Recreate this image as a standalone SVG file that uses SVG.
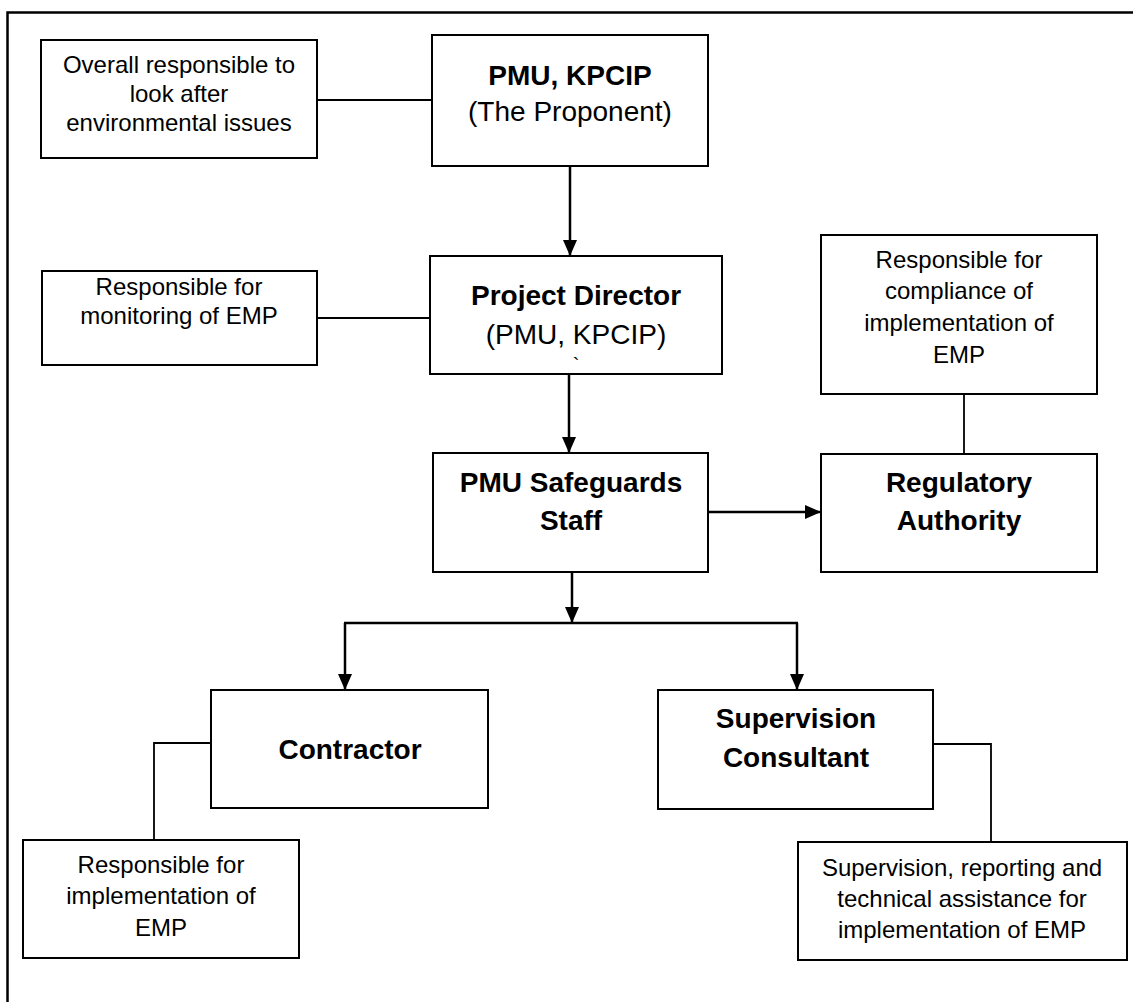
<svg xmlns="http://www.w3.org/2000/svg" width="1133" height="1002" viewBox="0 0 1133 1002">
<defs>
<marker id="ah" markerUnits="userSpaceOnUse" markerWidth="16" markerHeight="14" viewBox="0 0 16 14" refX="16" refY="7" orient="auto">
<path d="M0,0 L16,7 L0,14 Z" fill="#000"/>
</marker>
<style>
.box{fill:#fff;stroke:#000;stroke-width:2}
.frame{fill:none;stroke:#000;stroke-width:2.5}
.thin{fill:none;stroke:#000;stroke-width:1.8}
.arr{fill:none;stroke:#000;stroke-width:2.5}
.s{font-family:"Liberation Sans",Arial,sans-serif;font-size:24px;text-anchor:middle;fill:#000}
.b{font-family:"Liberation Sans",Arial,sans-serif;font-size:28px;font-weight:bold;text-anchor:middle;fill:#000}
.r{font-family:"Liberation Sans",Arial,sans-serif;font-size:28px;text-anchor:middle;fill:#000}
</style>
</defs>
<rect width="1133" height="1002" fill="#fff"/>
<path class="frame" d="M7.5,1002 V12.5 H1133"/>

<g id="connectors">
<line class="thin" x1="317" y1="100" x2="432" y2="100"/>
<line class="thin" x1="317" y1="318" x2="430" y2="318"/>
<line class="thin" x1="964" y1="394" x2="964" y2="454"/>
<polyline class="thin" points="211,743 154,743 154,840"/>
<polyline class="thin" points="933,744 991,744 991,842"/>
<line class="arr" x1="570" y1="162" x2="570" y2="256" marker-end="url(#ah)"/>
<line class="arr" x1="569" y1="374" x2="569" y2="453" marker-end="url(#ah)"/>
<line class="arr" x1="708" y1="512" x2="821" y2="512" marker-end="url(#ah)"/>
<line class="arr" x1="572" y1="572" x2="572" y2="623" marker-end="url(#ah)"/>
<line class="arr" x1="344" y1="623" x2="798" y2="623"/>
<line class="arr" x1="345" y1="623" x2="345" y2="690" marker-end="url(#ah)"/>
<line class="arr" x1="797" y1="623" x2="797" y2="690" marker-end="url(#ah)"/>
</g>

<g id="note-overall">
<rect class="box" x="41" y="40" width="276" height="118"/>
<text class="s" x="179" y="73">Overall responsible to</text>
<text class="s" x="179" y="102">look after</text>
<text class="s" x="179" y="131">environmental issues</text>
</g>

<g id="pmu-kpcip">
<rect class="box" x="432" y="35" width="276" height="131"/>
<text class="b" x="570" y="85">PMU, KPCIP</text>
<text class="r" x="570" y="121">(The Proponent)</text>
</g>

<g id="note-monitoring">
<rect class="box" x="42" y="271" width="275" height="94"/>
<text class="s" x="179" y="295">Responsible for</text>
<text class="s" x="179" y="324">monitoring of EMP</text>
</g>

<g id="project-director">
<rect class="box" x="430" y="256" width="292" height="118"/>
<text class="b" x="576" y="305">Project Director</text>
<text class="r" x="576" y="344">(PMU, KPCIP)</text>
<text class="r" x="576" y="372" style="font-size:20px">`</text>
</g>

<g id="note-compliance">
<rect class="box" x="821" y="235" width="276" height="159"/>
<text class="s" x="959" y="268">Responsible for</text>
<text class="s" x="959" y="299">compliance of</text>
<text class="s" x="959" y="331">implementation of</text>
<text class="s" x="959" y="363">EMP</text>
</g>

<g id="safeguards">
<rect class="box" x="433" y="453" width="275" height="119"/>
<text class="b" x="571" y="492">PMU Safeguards</text>
<text class="b" x="571" y="530">Staff</text>
</g>

<g id="regulatory">
<rect class="box" x="821" y="454" width="276" height="118"/>
<text class="b" x="959" y="492">Regulatory</text>
<text class="b" x="959" y="530">Authority</text>
</g>

<g id="contractor">
<rect class="box" x="211" y="690" width="277" height="118"/>
<text class="b" x="350" y="759">Contractor</text>
</g>

<g id="supervision">
<rect class="box" x="658" y="690" width="275" height="119"/>
<text class="b" x="796" y="728">Supervision</text>
<text class="b" x="796" y="767">Consultant</text>
</g>

<g id="note-implementation">
<rect class="box" x="23" y="840" width="276" height="118"/>
<text class="s" x="161" y="873">Responsible for</text>
<text class="s" x="161" y="904">implementation of</text>
<text class="s" x="161" y="936">EMP</text>
</g>

<g id="note-supervision">
<rect class="box" x="798" y="842" width="329" height="118"/>
<text class="s" x="962" y="876">Supervision, reporting and</text>
<text class="s" x="962" y="907">technical assistance for</text>
<text class="s" x="962" y="938">implementation of EMP</text>
</g>
</svg>
